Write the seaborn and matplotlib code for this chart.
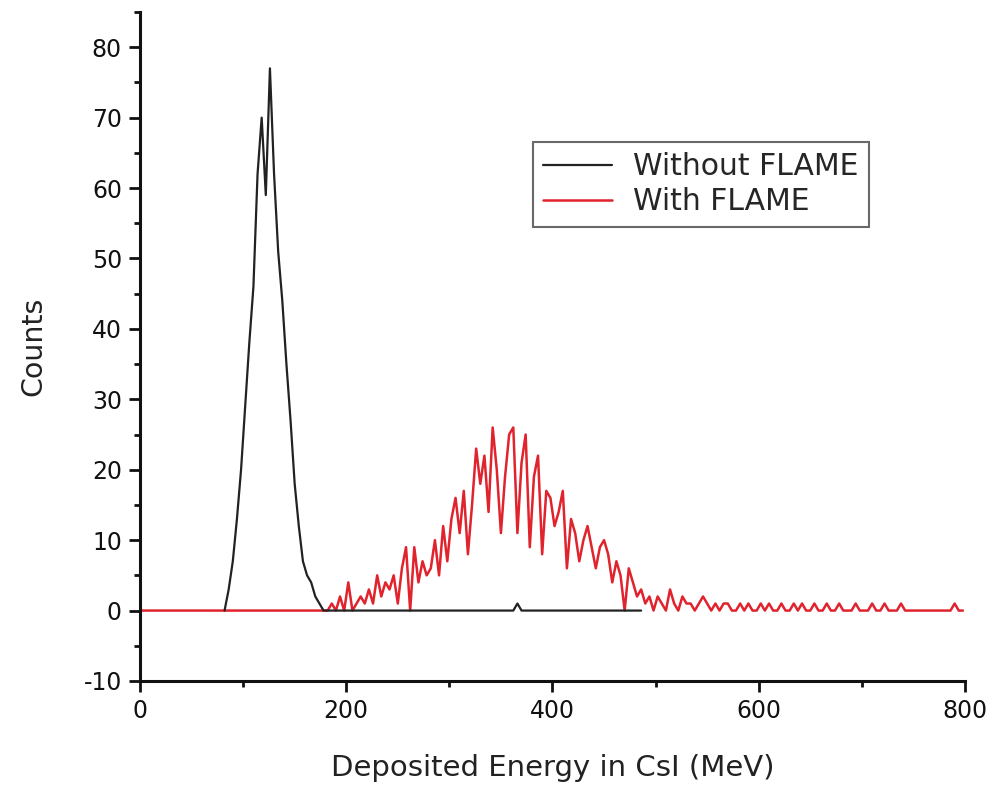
import numpy as np
import pandas as pd
import seaborn as sns
import matplotlib
import matplotlib.pyplot as plt
from matplotlib.ticker import MultipleLocator

matplotlib.use('Agg')

# Histogram data, 4 MeV bins
bin_width = 4
energy_max = 800

# Without FLAME: peak region starting at 80 MeV
black_start = 80
black_counts = [0, 3, 7, 13, 20, 29, 38, 46, 62, 70,
                59, 77, 62, 51, 44, 35, 27, 18, 12, 7,
                5, 4, 2, 1, 0]
black_end = 488
black_spike_energy = 364
black_spike_count = 1

# With FLAME: nonzero region starting at 180 MeV
red_start = 180
red_counts = [0, 1, 0, 2, 0, 4, 0, 1, 2, 1,
              3, 1, 5, 2, 4, 3, 5, 1, 6, 9,
              0, 9, 4, 7, 5, 6, 10, 5, 12, 7,
              13, 16, 11, 17, 8, 15, 23, 18, 22, 14,
              26, 20, 11, 19, 25, 26, 11, 21, 25, 9,
              19, 22, 8, 17, 16, 12, 14, 17, 6, 13,
              11, 7, 10, 12, 9, 6, 9, 10, 8, 4,
              7, 5, 0, 6, 4, 2, 3, 1, 2, 0,
              2, 1, 0, 3, 1, 0, 2, 1, 1, 0,
              1, 2, 1, 0, 1, 0, 1, 1, 0, 0,
              1, 0, 1, 0, 0, 1, 0, 1, 0, 0,
              1, 0, 0, 1, 0, 1, 0, 0, 1, 0,
              0, 1, 0, 0, 1, 0, 0, 0, 1, 0,
              0, 0, 1, 0, 0, 1, 0, 0, 0, 1,
              0, 0, 0, 0, 0, 0, 0, 0, 0, 0,
              0, 0, 1, 0, 0]

labels = ['Without FLAME', 'With FLAME']

# Build full series on the bin grid
edges = np.arange(0, energy_max, bin_width)
red_full = np.zeros(len(edges))
i0 = red_start // bin_width
red_full[i0:i0 + len(red_counts)] = red_counts

b_edges = np.arange(black_start, black_end, bin_width)
black_full = np.zeros(len(b_edges))
black_full[:len(black_counts)] = black_counts
black_full[(black_spike_energy - black_start) // bin_width] = black_spike_count

red_df = pd.DataFrame({'energy': edges + bin_width / 2, 'counts': red_full})
black_df = pd.DataFrame({'energy': b_edges + bin_width / 2, 'counts': black_full})

sns.set_style('ticks')
plt.rcParams['font.family'] = ['DejaVu Sans']
plt.rcParams['axes.unicode_minus'] = False

fig = plt.figure(figsize=(9.95, 7.89), dpi=100)
ax = fig.add_axes([0.1407, 0.1369, 0.8291, 0.8479])

sns.lineplot(data=red_df, x='energy', y='counts', ax=ax, color='#e0232d',
             linewidth=1.8, label=labels[1], zorder=2)
sns.lineplot(data=black_df, x='energy', y='counts', ax=ax, color='#222222',
             linewidth=1.6, label=labels[0], zorder=3)

ax.set_xlim(0, 800)
ax.set_ylim(-10, 85)
ax.xaxis.set_major_locator(MultipleLocator(200))
ax.xaxis.set_minor_locator(MultipleLocator(100))
ax.yaxis.set_minor_locator(MultipleLocator(5))
ax.set_yticks(np.arange(-10, 81, 10))

for side in ['top', 'right']:
    ax.spines[side].set_visible(False)
for side in ['left', 'bottom']:
    ax.spines[side].set_linewidth(2.2)
    ax.spines[side].set_color('#111111')

ax.tick_params(which='major', direction='out', length=8, width=2,
               labelsize=17, colors='#111111', pad=5)
ax.tick_params(which='minor', direction='out', length=4, width=2,
               colors='#111111')

ax.set_xlabel('Deposited Energy in CsI (MeV)', fontsize=21, labelpad=22,
              color='#222222')
ax.set_ylabel('Counts', fontsize=20.5, labelpad=26, color='#222222')

handles, labs = ax.get_legend_handles_labels()
order = [labs.index(labels[0]), labs.index(labels[1])]
leg = ax.legend([handles[i] for i in order], [labs[i] for i in order],
                loc='upper left', bbox_to_anchor=(0.476, 0.806), fontsize=21.5,
                frameon=True, fancybox=False, edgecolor='#444444',
                handlelength=2.3, handletextpad=0.7, borderpad=0.35,
                labelspacing=0.2, borderaxespad=0)
leg.get_frame().set_linewidth(1.5)

plt.savefig('out.png', dpi=100)
